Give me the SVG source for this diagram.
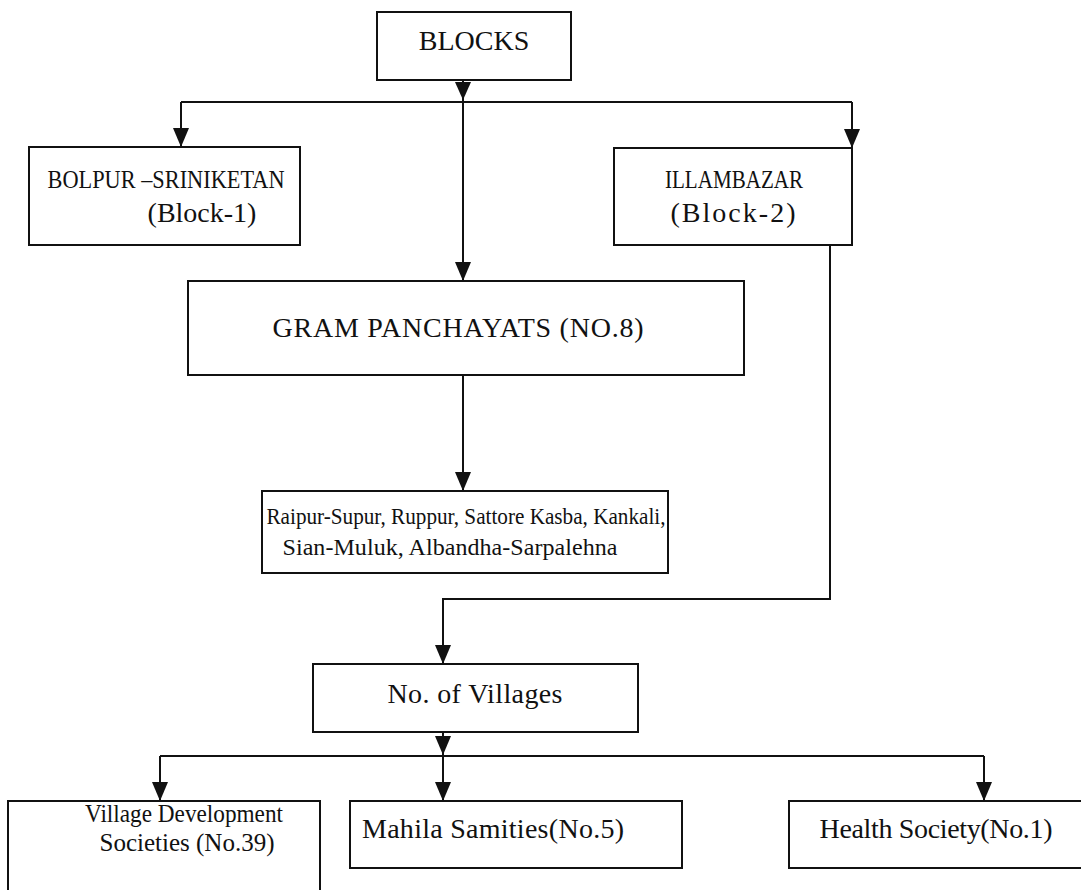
<svg xmlns="http://www.w3.org/2000/svg" width="1081" height="890" viewBox="0 0 1081 890">
<defs>
<marker id="ah" markerUnits="userSpaceOnUse" markerWidth="20" markerHeight="16" refX="19" refY="8" orient="auto" viewBox="0 0 20 16">
<path d="M0,0 L19,8 L0,16 Z" fill="#111"/>
</marker>
<style>
.box{fill:#fff;stroke:#111;stroke-width:2}
.t{font-family:'Liberation Serif','Times New Roman',serif;font-size:28px;fill:#111;text-anchor:middle}
.m{font-size:26px}
.s{font-size:24px}
.c{fill:none;stroke:#111;stroke-width:2}
</style>
</defs>
<rect width="1081" height="890" fill="#fff"/>
<g id="connectors">
<line class="c" x1="181" y1="102" x2="852" y2="102"/>
<line class="c" x1="463" y1="80" x2="463" y2="101"/>
<path d="M455,82 L471,82 L463,100 Z" fill="#111"/>
<line class="c" x1="181" y1="102" x2="181" y2="147" marker-end="url(#ah)"/>
<line class="c" x1="852" y1="102" x2="852" y2="148" marker-end="url(#ah)"/>
<line class="c" x1="463" y1="102" x2="463" y2="281" marker-end="url(#ah)"/>
<line class="c" x1="463" y1="375" x2="463" y2="491" marker-end="url(#ah)"/>
<polyline class="c" points="830,238 830,599 443,599 443,664" marker-end="url(#ah)"/>
<line class="c" x1="443" y1="732" x2="443" y2="756"/>
<path d="M435,736 L451,736 L443,755 Z" fill="#111"/>
<line class="c" x1="160" y1="756" x2="984" y2="756"/>
<line class="c" x1="160" y1="756" x2="160" y2="801" marker-end="url(#ah)"/>
<line class="c" x1="443" y1="756" x2="443" y2="801" marker-end="url(#ah)"/>
<line class="c" x1="984" y1="756" x2="984" y2="801" marker-end="url(#ah)"/>
</g>
<g id="blocks"><rect class="box" x="377" y="12" width="194" height="68"/><text class="t" x="474" y="50">BLOCKS</text></g>
<g id="bolpur"><rect class="box" x="29" y="147" width="271" height="98"/><text class="t m" x="166" y="188" textLength="237" lengthAdjust="spacingAndGlyphs">BOLPUR –SRINIKETAN</text><text class="t" x="202" y="222">(Block-1)</text></g>
<g id="illambazar"><rect class="box" x="614" y="148" width="238" height="97"/><text class="t m" x="734" y="188" textLength="138" lengthAdjust="spacingAndGlyphs">ILLAMBAZAR</text><text class="t" x="733" y="222" textLength="125">(Block-2)</text></g>
<g id="gram"><rect class="box" x="188" y="281" width="556" height="94"/><text class="t" x="458" y="337" textLength="371">GRAM PANCHAYATS (NO.8)</text></g>
<g id="raipur"><rect class="box" x="262" y="491" width="406" height="82"/><text class="t s" x="466" y="524" textLength="399" lengthAdjust="spacingAndGlyphs">Raipur-Supur, Ruppur, Sattore Kasba, Kankali,</text><text class="t s" x="450" y="555" textLength="335">Sian-Muluk, Albandha-Sarpalehna</text></g>
<g id="villages"><rect class="box" x="313" y="664" width="325" height="68"/><text class="t" x="475" y="703" textLength="175">No. of Villages</text></g>
<g id="vds"><rect class="box" x="8" y="801" width="312" height="90"/><text class="t m" x="184" y="822" textLength="198" lengthAdjust="spacingAndGlyphs">Village Development</text><text class="t m" x="187" y="851" textLength="175" lengthAdjust="spacingAndGlyphs">Societies (No.39)</text></g>
<g id="mahila"><rect class="box" x="350" y="801" width="332" height="67"/><text class="t" x="493" y="838" textLength="262">Mahila Samities(No.5)</text></g>
<g id="health"><rect class="box" x="789" y="801" width="300" height="67"/><text class="t" x="936" y="838" textLength="233">Health Society(No.1)</text></g>
</svg>
